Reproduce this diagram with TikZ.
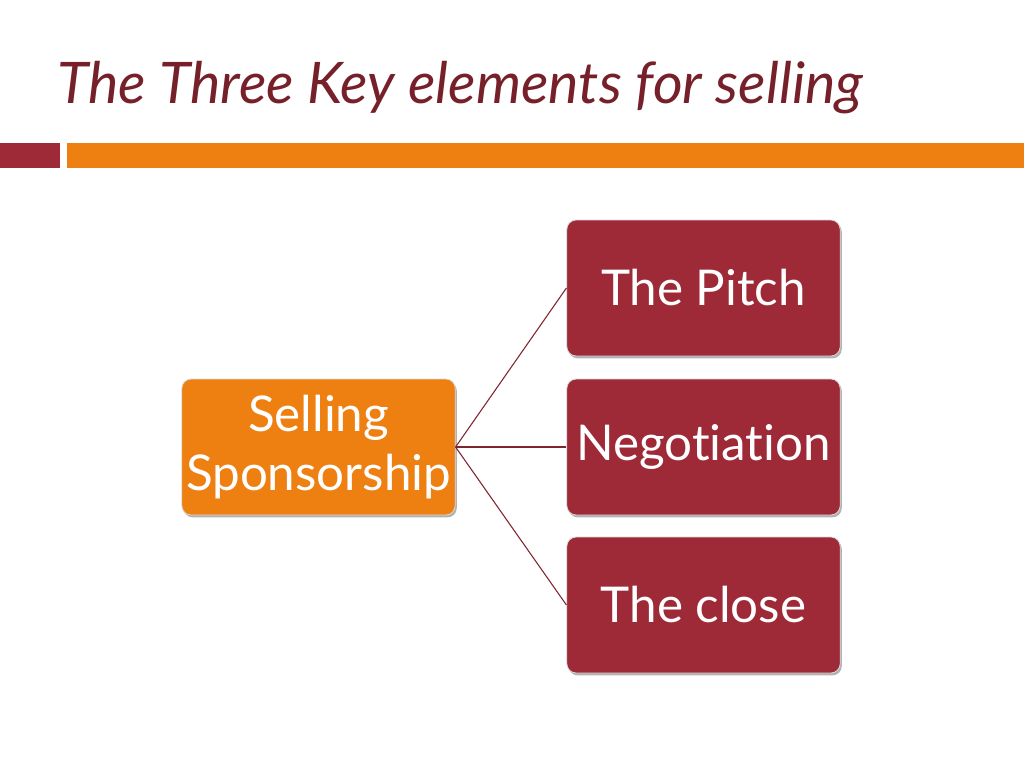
\documentclass[tikz,border=0pt]{standalone}
\usepackage{fontspec}
\setmainfont{Lato}[Ligatures={NoCommon,NoRare}]
\usetikzlibrary{shadows}
\definecolor{titlered}{HTML}{76202A}
\definecolor{boxred}{HTML}{9E2A38}
\definecolor{boxorange}{HTML}{EE8012}
\definecolor{linered}{HTML}{7E2530}
\tikzset{
  box/.style={rounded corners=7pt, draw=white!85!black, line width=0.6pt, text=white,
    minimum width=205pt, minimum height=102pt, inner sep=0pt, align=center,
    font=\fontsize{37}{44}\selectfont,
    drop shadow={shadow xshift=1.2pt, shadow yshift=-1.8pt, fill=black, opacity=0.3}},
  redbox/.style={box, fill=boxred},
  orangebox/.style={box, fill=boxorange},
  conn/.style={draw=linered, line width=0.8pt}
}
\begin{document}
\begin{tikzpicture}[x=0.75pt,y=-0.75pt]
\useasboundingbox (0,0) rectangle (1024,768);
\fill[white] (0,0) rectangle (1024,768);
\node[anchor=base west, text=titlered, inner sep=0pt, font=\fontsize{43}{46}\selectfont\itshape] (title) at (57,103) {The Three Key elements for selling};
\fill[boxred] (0,143) rectangle (60,168);
\fill[boxorange] (67,143) rectangle (1024,168);
\node[orangebox] (src) at (318.5,447) {Selling\\Sponsorship};
\node[redbox] (pitch) at (703.5,288) {The Pitch};
\node[redbox] (neg) at (703.5,447) {Negotiation};
\node[redbox] (close) at (703.5,605) {The close};
\draw[conn] (src.east) -- (pitch.west);
\draw[conn] (src.east) -- (neg.west);
\draw[conn] (src.east) -- (close.west);
\end{tikzpicture}
\end{document}
